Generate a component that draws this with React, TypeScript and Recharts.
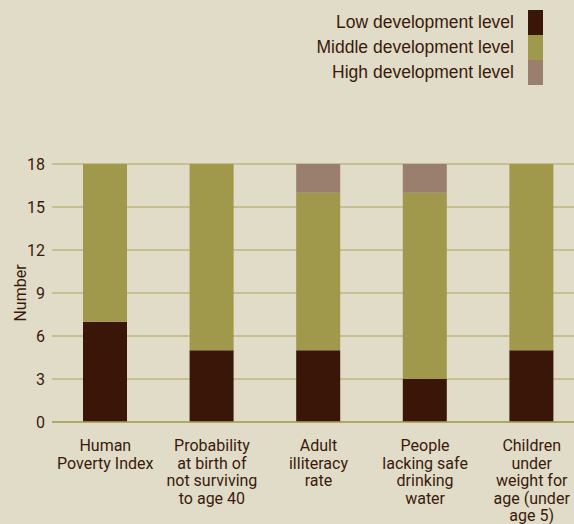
import React from "react";
import { Bar, BarChart, CartesianGrid, Legend, XAxis, YAxis } from "recharts";

const categories = [
  "Human\nPoverty Index",
  "Probability\nat birth of\nnot surviving\nto age 40",
  "Adult\nilliteracy\nrate",
  "People\nlacking safe\ndrinking\nwater",
  "Children\nunder\nweight for\nage (under\nage 5)",
];
const low = [7, 5, 5, 3, 5];
const middle = [11, 13, 11, 13, 13];
const high = [0, 0, 2, 2, 0];
const yTicks = [0, 3, 6, 9, 12, 15, 18];
const seriesNames = [
  "Low development level",
  "Middle development level",
  "High development level",
];

const data = categories.map((name, i) => ({
  name,
  low: low[i],
  middle: middle[i],
  high: high[i],
}));

const TEXT = "#3A1A0C";
const BG = "#E1DCC7";

function CategoryTick(props: any) {
  const { x, y, payload } = props;
  const lines = String(payload.value).split("\n");
  return (
    <text
      x={x}
      y={y}
      textAnchor="middle"
      fill={TEXT}
      fontSize={16}
      fontFamily="Roboto, sans-serif"
    >
      {lines.map((l, i) => (
        <tspan key={i} x={x} dy={i === 0 ? 21 : 17.5}>
          {l}
        </tspan>
      ))}
    </text>
  );
}

function LegendBox(props: any) {
  const items = [...(props.payload || [])].sort(
    (a: any, b: any) => seriesNames.indexOf(a.value) - seriesNames.indexOf(b.value)
  );
  return (
    <div style={{ fontFamily: "'Liberation Sans', Arial, sans-serif" }}>
      {items.map((it: any) => (
        <div
          key={it.value}
          style={{ display: "flex", alignItems: "center", height: 25 }}
        >
          <span
            style={{
              flex: 1,
              textAlign: "right",
              fontSize: 17.5,
              color: TEXT,
              paddingRight: 14,
              whiteSpace: "nowrap",
            }}
          >
            {it.value}
          </span>
          <span
            style={{ width: 15, height: 25, background: it.color, display: "block" }}
          />
        </div>
      ))}
    </div>
  );
}

export default function App() {
  return (
    <div
      style={{
        position: "absolute",
        left: 0,
        top: 0,
        width: 574,
        height: 524,
        overflow: "hidden",
        background: BG,
      }}
    >
      <BarChart
        width={600}
        height={524}
        data={data}
        margin={{ top: 164, right: 15, left: 0, bottom: 0 }}
        barSize={44}
      >
        <CartesianGrid stroke="#BDB67F" strokeWidth={1.5} vertical={false} />
        <XAxis
          dataKey="name"
          interval={0}
          height={102}
          tickLine={false}
          axisLine={{ stroke: "#A8A058", strokeWidth: 1.5 }}
          tick={<CategoryTick />}
        />
        <YAxis
          width={52}
          domain={[0, 18]}
          ticks={yTicks}
          tickLine={false}
          axisLine={false}
          tickMargin={1}
          tick={{ fill: TEXT, fontSize: 16, fontFamily: "Roboto, sans-serif" }}
          label={{
            value: "Number",
            angle: -90,
            position: "insideLeft",
            offset: 20,
            style: {
              textAnchor: "middle",
              fill: TEXT,
              fontSize: 16,
              fontFamily: "Roboto, sans-serif",
            },
          }}
        />
        <Legend
          layout="vertical"
          align="center"
          verticalAlign="middle"
          content={<LegendBox />}
          wrapperStyle={{ top: 10, left: 300, width: 243 }}
        />
        <Bar dataKey="low" name={seriesNames[0]} stackId="a" fill="#3A1608" isAnimationActive={false} />
        <Bar dataKey="middle" name={seriesNames[1]} stackId="a" fill="#A0984A" isAnimationActive={false} />
        <Bar dataKey="high" name={seriesNames[2]} stackId="a" fill="#9A7E6E" isAnimationActive={false} />
      </BarChart>
    </div>
  );
}
